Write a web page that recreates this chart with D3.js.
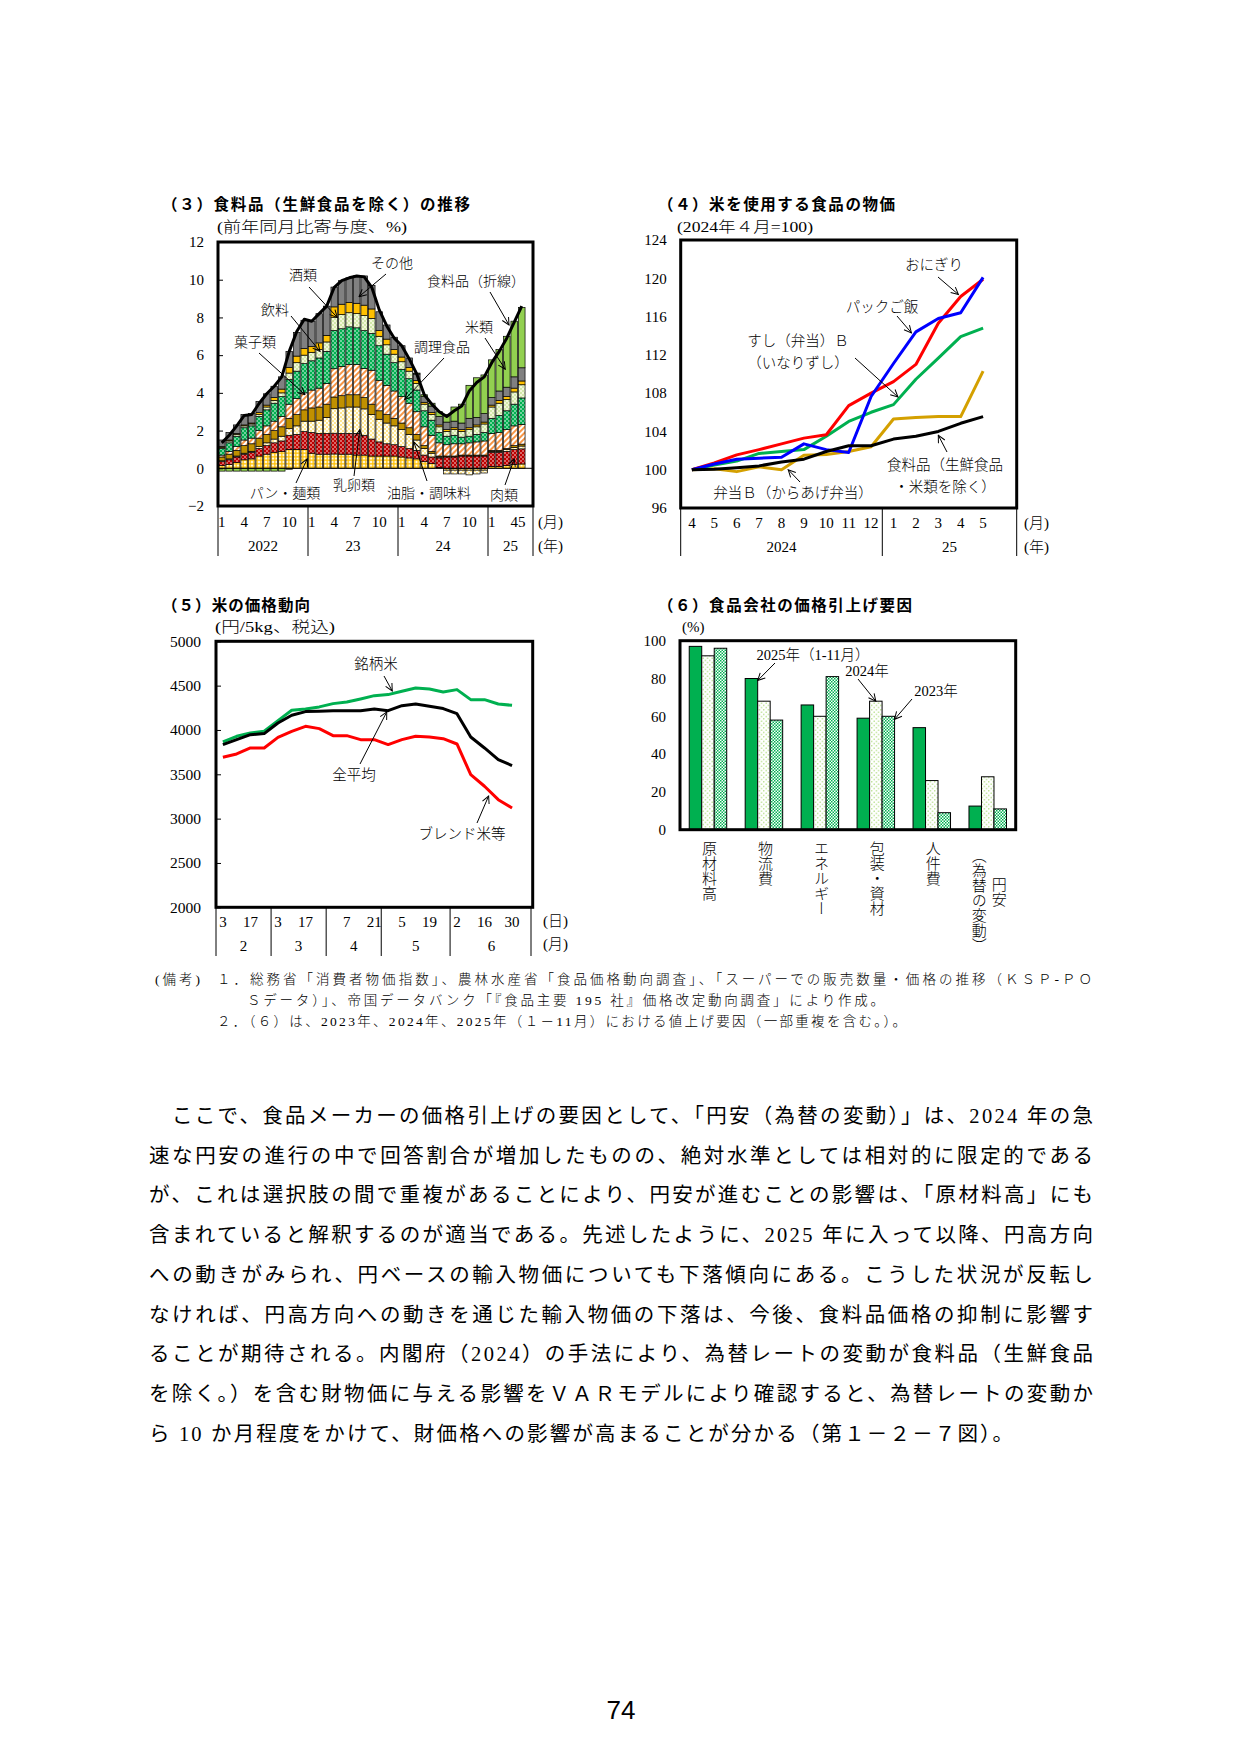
<!DOCTYPE html>
<html>
<head>
<meta charset="utf-8">
<script src="https://d3js.org/d3.v7.min.js"></script>
<style>
  body { margin:0; background:#fff; }
</style>
</head>
<body>
<script>
// ---------- (3) food contributions, 2022/1 - 2025/5 ----------
var months3 = ["2022/1","2022/2","2022/3","2022/4","2022/5","2022/6","2022/7","2022/8","2022/9","2022/10","2022/11","2022/12",
  "2023/1","2023/2","2023/3","2023/4","2023/5","2023/6","2023/7","2023/8","2023/9","2023/10","2023/11","2023/12",
  "2024/1","2024/2","2024/3","2024/4","2024/5","2024/6","2024/7","2024/8","2024/9","2024/10","2024/11","2024/12",
  "2025/1","2025/2","2025/3","2025/4","2025/5"];
var pan3 = [0.15,0.2,0.3,0.45,0.5,0.65,0.75,0.85,0.9,1.0,1.0,1.0, 0.8,0.75,0.75,0.76,0.75,0.75,0.7,0.7,0.65,0.65,0.65,0.65, 0.6,0.55,0.5,0.35,0.25,0.05,-0.1,-0.1,-0.1,-0.1,-0.1,-0.1, 0.1,0.1,0.15,0.2,0.23];
var meat3 = [0.2,0.25,0.3,0.3,0.35,0.4,0.45,0.5,0.55,0.75,0.8,0.95, 1.1,1.1,1.1,1.1,1.1,1.1,1.15,1.05,0.9,0.75,0.65,0.6, 0.55,0.5,0.45,0.35,0.35,0.5,0.6,0.6,0.65,0.65,0.65,0.65, 0.75,0.75,0.75,0.8,0.8];
var dairy3 = [0.05,0.05,0.05,0.05,0.05,0.1,0.15,0.2,0.25,0.35,0.45,0.55, 0.6,0.7,0.85,1.3,1.35,1.4,1.4,1.4,1.3,1.2,1.1,1.0, 0.9,0.75,0.55,0.35,0.2,0.05,-0.2,-0.2,-0.2,-0.25,-0.2,-0.15, 0.05,0.05,0.1,0.1,0.15];
var oil3 = [0.2,0.25,0.3,0.4,0.4,0.45,0.45,0.45,0.5,0.55,0.6,0.6, 0.7,0.7,0.7,0.62,0.65,0.65,0.65,0.6,0.55,0.45,0.45,0.4, 0.35,0.35,0.3,0.15,0.1,0.05,0.05,0.05,0.05,0.05,0.05,0.05, 0.05,0.05,0.05,0.1,0.1];
var snack3 = [0.1,0.15,0.2,0.3,0.3,0.4,0.45,0.5,0.55,0.75,0.85,0.9, 0.95,1.0,1.1,1.5,1.55,1.6,1.6,1.55,1.8,1.6,1.55,1.45, 1.4,1.3,1.2,1.0,0.85,0.7,0.6,0.65,0.6,0.65,0.7,0.75, 0.9,0.95,1.0,1.05,1.05];
var prep3 = [0.35,0.45,0.55,0.65,0.65,0.75,0.85,0.95,1.05,1.3,1.45,1.55, 1.55,1.6,1.7,2.03,2.0,2.0,1.95,2.0,1.95,1.85,1.65,1.5, 1.45,1.3,1.15,0.85,0.8,0.55,0.45,0.45,0.35,0.35,0.4,0.45, 0.8,0.9,1.0,1.15,1.4];
var bev3 = [0.05,0.1,0.1,0.1,0.1,0.1,0.15,0.15,0.2,0.35,0.45,0.45, 0.45,0.45,0.5,0.7,0.75,0.75,0.75,0.8,0.8,0.5,0.5,0.45, 0.4,0.4,0.35,0.35,0.3,0.3,0.25,0.3,0.3,0.35,0.4,0.45, 0.6,0.65,0.6,0.65,0.7];
var alc3 = [0.05,0.05,0.05,0.05,0.05,0.1,0.1,0.15,0.2,0.3,0.35,0.35, 0.3,0.35,0.35,0.55,0.55,0.55,0.55,0.55,0.5,0.3,0.3,0.25, 0.25,0.2,0.15,0.1,0.1,0.1,0.1,0.1,0.1,0.1,0.1,0.1, 0.1,0.15,0.15,0.2,0.2];
var other3 = [0.35,0.4,0.45,0.55,0.5,0.6,0.6,0.6,0.65,0.85,1.25,1.5, 1.35,1.55,1.55,1.05,1.25,1.3,1.45,1.55,1.25,1.0,0.75,0.65, 0.6,0.5,0.35,0.3,0.35,0.45,0.4,0.35,0.35,0.5,0.4,0.45, 0.4,0.5,0.5,0.6,0.7];
var rice3 = [-0.15,-0.15,-0.15,-0.15,-0.15,-0.15,-0.15,-0.15,-0.15,-0.05,0,0, 0,0,0,0,0,0,0,0,0,0,0,0, 0,0,0.05,0.1,0.15,0.25,0.4,0.75,1.0,1.75,2.1,2.05, 2.0,2.2,2.7,2.95,3.2];
var food3 = [1.35,1.75,2.25,2.8,2.85,3.45,3.95,4.35,4.85,6.2,7.25,7.9, 7.8,8.2,8.6,9.6,9.95,10.1,10.2,10.15,9.6,8.4,7.55,6.9, 6.5,5.8,5.0,3.9,3.4,3.0,2.75,3.05,3.3,4.1,4.55,4.85, 5.6,6.2,6.9,7.75,8.6];
var tickIdx3 = [0,3,6,9,12,15,18,21,24,27,30,33,36,39,40];
var years3 = [["2022",0,12],["23",12,24],["24",24,36],["25",36,42]];

// ---------- (4) rice food prices, 2024/4 = 100 ----------
var months4 = ["2024/4","2024/5","2024/6","2024/7","2024/8","2024/9","2024/10","2024/11","2024/12","2025/1","2025/2","2025/3","2025/4","2025/5"];
var onigiri4 = [100,100.7,101.55,102.1,102.7,103.3,103.65,106.7,108.0,109.2,111.0,115.3,118.1,119.9];
var packRice4 = [100,100.6,101.1,101.2,101.3,102.7,102.1,101.8,107.65,111.1,114.4,115.8,116.4,120.1];
var sushi4 = [100,100.5,100.9,101.7,101.9,102.1,103.5,105.05,106.0,106.8,109.45,111.65,113.9,114.8];
var bento4 = [100,100.1,99.8,100.3,100.0,101.5,101.6,101.9,102.4,105.3,105.45,105.55,105.55,110.3];
var food4 = [100,100.05,100.2,100.4,100.8,101.1,101.9,102.5,102.5,103.2,103.5,104.0,104.85,105.55];
var years4 = [["2024",0,9],["25",9,15]];

// ---------- (5) rice price, yen / 5kg ----------
var dates5 = ["2/3","2/10","2/17","2/24","3/3","3/10","3/17","3/24","3/31","4/7","4/14","4/21","4/28","5/5","5/12","5/19","5/26","6/2","6/9","6/16","6/23","6/30"];
var brand5 = [3865,3929,3966,3985,4105,4222,4237,4260,4297,4316,4350,4387,4399,4436,4474,4462,4429,4455,4342,4342,4293,4278];
var avg5 = [3835,3891,3947,3959,4079,4166,4207,4211,4218,4218,4218,4237,4218,4274,4293,4267,4241,4184,3921,3797,3666,3598];
var blend5 = [3692,3729,3797,3797,3917,3985,4041,4015,3936,3936,3891,3891,3835,3891,3929,3921,3902,3842,3496,3365,3214,3120];
var dayTicks5 = [0,2,4,6,9,11,13,15,17,19,21];
var groups5 = [["2",0,4],["3",4,8],["4",8,12],["5",12,17],["6",17,23]];

// ---------- (6) reasons for price increases, % ----------
var factors6 = ["原材料高","物流費","エネルギー","包装・資材","人件費","円安\n（為替の変動）"];
var years6 = ["2025","2024","2023"];
var y2025 = [97,80,66,59,54,12.5];
var y2024 = [92,68,60,68,26,28];
var y2023 = [96,58,81,60,9,11];

var SERIF = "'Liberation Serif','Noto Sans CJK JP',serif";
var GOTHIC = "'Noto Sans CJK JP',sans-serif";

var svg = d3.select("body").append("svg").attr("width",1241).attr("height",1755);
svg.append("rect").attr("width",1241).attr("height",1755).attr("fill","#fff");
var defs = svg.append("defs");

defs.append("marker").attr("id","arr").attr("viewBox","0 0 10 10").attr("refX",9).attr("refY",5)
  .attr("markerWidth",9).attr("markerHeight",9).attr("markerUnits","userSpaceOnUse").attr("orient","auto")
  .append("path").attr("d","M1,1 L9,5 L1,9").attr("fill","none").attr("stroke","#000").attr("stroke-width",1.1);

// fill patterns
function pat(id, w, h, bg) {
  var p = defs.append("pattern").attr("id",id).attr("width",w).attr("height",h).attr("patternUnits","userSpaceOnUse");
  p.append("rect").attr("width",w).attr("height",h).attr("fill",bg);
  return p;
}
function dots(p, pts, r, col) {
  pts.forEach(function(d){ p.append("circle").attr("cx",d[0]).attr("cy",d[1]).attr("r",r).attr("fill",col); });
}
var pPan = pat("pPan",3.5,3.5,"#fffbea");
pPan.append("path").attr("d","M0,1.75H3.5M1.75,0V3.5").attr("stroke","#ffc000").attr("stroke-width",1.3);
dots(pat("pMeat",4,4,"#c00000"), [[1,1],[3,3]], 0.75, "#fff");
dots(pat("pDairy",4,4,"#fffff4"), [[1,1],[3,3]], 0.75, "#ffc000");
var pSnack = pat("pSnack",4,4,"#fff").attr("patternTransform","rotate(45)");
pSnack.append("rect").attr("width",2).attr("height",4).attr("fill","#f79646");
dots(pat("pPrep",4,4,"#00b050"), [[1,1],[3,3]], 0.8, "#fff");
dots(pat("pBev",4,4,"#f3f6da"), [[1,1],[3,3]], 0.65, "#92d050");
dots(pat("p24",4.5,4.5,"#fff"), [[1.1,1.1],[3.35,3.35]], 0.65, "#92d050");
var p23 = pat("p23",3,3,"#fff");
p23.append("rect").attr("width",1.5).attr("height",1.5).attr("fill","#00b050");
p23.append("rect").attr("x",1.5).attr("y",1.5).attr("width",1.5).attr("height",1.5).attr("fill","#00b050");

function txt(g, x, y, s, size, anchor, family, weight) {
  return g.append("text").attr("x",x).attr("y",y).attr("font-size",size)
    .attr("text-anchor",anchor || "start").attr("font-family",family || SERIF)
    .attr("font-weight",weight || "normal").attr("fill","#000").text(s);
}
function arrow(g, x1, y1, x2, y2) {
  g.append("line").attr("x1",x1).attr("y1",y1).attr("x2",x2).attr("y2",y2)
    .attr("stroke","#000").attr("stroke-width",1).attr("marker-end","url(#arr)");
}
function frame(g, x0, y0, x1, y1) {
  g.append("rect").attr("x",x0).attr("y",y0).attr("width",x1-x0).attr("height",y1-y0)
    .attr("fill","none").attr("stroke","#000").attr("stroke-width",3);
}
function styleAxis(a, size) {
  a.attr("font-size",size).attr("font-family",SERIF);
  a.select(".domain").remove();
  a.selectAll("text").attr("fill","#000");
}

// ===================== (3) =====================
var g3 = svg.append("g");
txt(g3,162,210,"（３）食料品（生鮮食品を除く）の推移",15.5,"start",GOTHIC,"bold").attr("textLength",308).attr("lengthAdjust","spacing");
txt(g3,217,232,"(前年同月比寄与度、%)",15,"start",SERIF,300).attr("textLength",190).attr("lengthAdjust","spacingAndGlyphs");

var keys3 = ["pan","meat","dairy","oil","snack","prep","bev","alc","other","rice"];
var fill3 = {pan:"url(#pPan)",meat:"url(#pMeat)",dairy:"url(#pDairy)",oil:"#c09000",snack:"url(#pSnack)",
  prep:"url(#pPrep)",bev:"url(#pBev)",alc:"#ffc000",other:"#808080",rice:"#92d050"};
var rows3 = months3.map(function(m,i){
  return {m:i,pan:pan3[i],meat:meat3[i],dairy:dairy3[i],oil:oil3[i],snack:snack3[i],prep:prep3[i],
    bev:bev3[i],alc:alc3[i],other:other3[i],rice:rice3[i]};
});
var x3 = d3.scaleBand().domain(d3.range(months3.length+1)).range([218,533]).paddingInner(0.12).paddingOuter(0.06);
var xb3 = d3.scaleLinear().domain([0,months3.length+1]).range([218,533]);
var y3 = d3.scaleLinear().domain([-2,12]).range([506,242]);
var series3 = d3.stack().keys(keys3).offset(d3.stackOffsetDiverging)(rows3);

g3.selectAll("g.layer").data(series3).enter().append("g").attr("class","layer")
  .attr("fill",function(d){return fill3[d.key];})
  .selectAll("rect").data(function(d){return d.filter(function(e){return e[1]!==e[0];});}).enter().append("rect")
  .attr("x",function(d){return x3(d.data.m);})
  .attr("width",x3.bandwidth())
  .attr("y",function(d){return y3(Math.max(d[0],d[1]));})
  .attr("height",function(d){return Math.abs(y3(d[0])-y3(d[1]));})
  .attr("stroke","#000").attr("stroke-width",0.7);

g3.append("line").attr("x1",218).attr("x2",533).attr("y1",y3(0)).attr("y2",y3(0)).attr("stroke","#000").attr("stroke-width",1);
g3.append("path").datum(food3)
  .attr("d",d3.line().x(function(d,i){return xb3(i+0.5);}).y(function(d){return y3(d);}))
  .attr("fill","none").attr("stroke","#000").attr("stroke-width",3).attr("stroke-linejoin","round");
frame(g3,218,242,533,506);
var ax3 = g3.append("g").attr("transform","translate(218,0)")
  .call(d3.axisLeft(y3).tickValues(d3.range(-2,13,2)).tickFormat(d3.format("d")).tickSizeInner(-5).tickSizeOuter(0).tickPadding(14));
styleAxis(ax3,15);

tickIdx3.forEach(function(i){
  txt(g3,xb3(i+0.5),527,months3[i].split("/")[1],15,"middle");
});
years3.forEach(function(y){
  g3.append("line").attr("x1",xb3(y[1])).attr("x2",xb3(y[1])).attr("y1",506).attr("y2",556).attr("stroke","#000").attr("stroke-width",1);
  txt(g3,(xb3(y[1])+xb3(y[2]))/2,551,y[0],15,"middle");
});
g3.append("line").attr("x1",533).attr("x2",533).attr("y1",506).attr("y2",556).attr("stroke","#000").attr("stroke-width",1);
txt(g3,538,527,"(月)",15,"start",SERIF,300);
txt(g3,538,551,"(年)",15,"start",SERIF,300);

var notes3 = [
  ["その他",392,268,386,274,18.3,9.1],
  ["酒類",303,280,309,287,15.4,8.0],
  ["食料品（折線）",476,286,490,292,38.3,7.6],
  ["飲料",275,315,291,316,13.1,6.2],
  ["米類",479,332,485,338,37.8,5.25],
  ["菓子類",255,347,259,353,11.1,3.9],
  ["調理食品",442,352,444,358,24.4,3.65],
  ["パン・麺類",285,498,296,483,11.4,0.5],
  ["乳卵類",354,490,354,476,18.4,2.05],
  ["油脂・調味料",429,498,427,481,25.6,1.4],
  ["肉類",504,500,505,485,39,0.5]
];
notes3.forEach(function(n){
  txt(g3,n[1],n[2],n[0],14,"middle").attr("font-weight",300);
  arrow(g3,n[3],n[4],xb3(n[5]+0.5),y3(n[6]));
});

// ===================== (4) =====================
var g4 = svg.append("g");
txt(g4,658,210,"（４）米を使用する食品の物価",15.5,"start",GOTHIC,"bold").attr("textLength",237).attr("lengthAdjust","spacing");
txt(g4,677,232,"(2024年４月=100)",15,"start",SERIF,300).attr("textLength",136).attr("lengthAdjust","spacingAndGlyphs");
var x4 = d3.scaleBand().domain(d3.range(months4.length+1)).range([680.7,1016.7]);
var xc4 = function(i){ return x4(0) + x4.step()*(i+0.5); };
var y4 = d3.scaleLinear().domain([96,124]).range([508,240]);
var line4 = d3.line().x(function(d,i){return xc4(i);}).y(function(d){return y4(d);});
[[bento4,"#d4a000"],[sushi4,"#00b050"],[onigiri4,"#ff0000"],[packRice4,"#0000ff"],[food4,"#000"]].forEach(function(s){
  g4.append("path").datum(s[0]).attr("d",line4).attr("fill","none").attr("stroke",s[1])
    .attr("stroke-width",3).attr("stroke-linejoin","round");
});
frame(g4,680.7,240,1016.7,508);
var ax4 = g4.append("g").attr("transform","translate(680.7,0)")
  .call(d3.axisLeft(y4).tickValues(d3.range(96,125,4)).tickFormat(d3.format("d")).tickSize(0).tickPadding(14));
styleAxis(ax4,15);
months4.forEach(function(m,i){ txt(g4,xc4(i),528,m.split("/")[1],15,"middle"); });
years4.forEach(function(y){
  var a = x4(0)+x4.step()*y[1], b = x4(0)+x4.step()*y[2];
  g4.append("line").attr("x1",a).attr("x2",a).attr("y1",508).attr("y2",556).attr("stroke","#000");
  txt(g4,(a+b)/2,552,y[0],15,"middle");
});
g4.append("line").attr("x1",1016.7).attr("x2",1016.7).attr("y1",508).attr("y2",556).attr("stroke","#000");
txt(g4,1024,528,"(月)",15,"start",SERIF,300);
txt(g4,1024,552,"(年)",15,"start",SERIF,300);

var notes4 = [
  [["おにぎり"],934,270,938,277,11.9,118.3],
  [["パックご飯"],882,312,897,316,9.8,114.3],
  [["すし（弁当）Ｂ","（いなりずし）"],798,346,855,358,9.2,107.6],
  [["食料品（生鮮食品","・米類を除く）"],945,470,947,452,11.0,103.6],
  [["弁当Ｂ（からあげ弁当）"],793,498,800,482,4.3,100.0]
];
notes4.forEach(function(n){
  n[0].forEach(function(s,k){ txt(g4,n[1],n[2]+k*22,s,14.5,"middle").attr("font-weight",300); });
  arrow(g4,n[3],n[4],xc4(n[5]),y4(n[6]));
});

// ===================== (5) =====================
var g5 = svg.append("g");
txt(g5,162,611,"（５）米の価格動向",15.5,"start",GOTHIC,"bold").attr("textLength",148).attr("lengthAdjust","spacing");
txt(g5,215,632,"(円/5kg、税込)",15,"start",SERIF,300).attr("textLength",120).attr("lengthAdjust","spacingAndGlyphs");
var x5 = d3.scaleBand().domain(d3.range(dates5.length+1)).range([216,532.7]);
var xc5 = function(k){ return x5(0) + x5.step()*(k+0.5); };
var y5 = d3.scaleLinear().domain([2000,5000]).range([907.3,641.3]);
var line5 = d3.line().x(function(d,i){return xc5(i);}).y(function(d){return y5(d);});
[[brand5,"#00b050"],[blend5,"#ff0000"],[avg5,"#000"]].forEach(function(s){
  g5.append("path").datum(s[0]).attr("d",line5).attr("fill","none").attr("stroke",s[1])
    .attr("stroke-width",3).attr("stroke-linejoin","round");
});
frame(g5,216,641.3,532.7,907.3);
var ax5 = g5.append("g").attr("transform","translate(216,0)")
  .call(d3.axisLeft(y5).tickValues(d3.range(2000,5001,500)).tickFormat(d3.format("d")).tickSizeInner(-5).tickSizeOuter(0).tickPadding(15));
styleAxis(ax5,15.5);
dayTicks5.forEach(function(k){ txt(g5,xc5(k),927,dates5[k].split("/")[1],15,"middle"); });
groups5.forEach(function(gr){
  var a = x5(0)+x5.step()*gr[1], b = x5(0)+x5.step()*gr[2];
  g5.append("line").attr("x1",a).attr("x2",a).attr("y1",907).attr("y2",956).attr("stroke","#000");
  txt(g5,(a+b)/2,951,gr[0],15,"middle");
});
g5.append("line").attr("x1",531).attr("x2",531).attr("y1",907).attr("y2",956).attr("stroke","#000");
txt(g5,543,926,"(日)",15,"start",SERIF,300);
txt(g5,543,949,"(月)",15,"start",SERIF,300);

var notes5 = [
  ["銘柄米",376,669,384,676,12.3,4440],
  ["全平均",354,780,360,764,11.9,4203],
  ["ブレンド米等",462,839,477,823,19.3,3255]
];
notes5.forEach(function(n){
  txt(g5,n[1],n[2],n[0],14.5,"middle").attr("font-weight",300);
  arrow(g5,n[3],n[4],xc5(n[5]),y5(n[6]));
});

// ===================== (6) =====================
var g6 = svg.append("g");
txt(g6,658,611,"（６）食品会社の価格引上げ要因",15.5,"start",GOTHIC,"bold").attr("textLength",254).attr("lengthAdjust","spacing");
txt(g6,682,632,"(%)",15,"start",SERIF,300);
var x6 = d3.scaleBand().domain(factors6).range([680,1015.7]).paddingInner(0.33).paddingOuter(0.165);
var xs6 = d3.scaleBand().domain(years6).range([0,x6.bandwidth()]);
var y6 = d3.scaleLinear().domain([0,100]).range([829.7,640.7]);
var vals6 = {"2025":y2025,"2024":y2024,"2023":y2023};
var fill6 = {"2025":"#00b050","2024":"url(#p24)","2023":"url(#p23)"};
years6.forEach(function(yr){
  g6.selectAll("rect.b"+yr).data(factors6).enter().append("rect")
    .attr("x",function(f){return x6(f)+xs6(yr);})
    .attr("width",xs6.bandwidth())
    .attr("y",function(f,i){return y6(vals6[yr][i]);})
    .attr("height",function(f,i){return y6(0)-y6(vals6[yr][i]);})
    .attr("fill",fill6[yr]).attr("stroke","#000").attr("stroke-width",1);
});
frame(g6,680,640.7,1015.7,829.7);
var ax6 = g6.append("g").attr("transform","translate(680,0)")
  .call(d3.axisLeft(y6).tickValues(d3.range(0,101,20)).tickFormat(d3.format("d")).tickSize(0).tickPadding(14));
styleAxis(ax6,15);
factors6.forEach(function(f){
  var cols = f.split("\n");
  var cx = x6(f)+x6.bandwidth()/2;
  if (cols.length === 1) {
    txt(g6,cx,841,f,15).attr("font-weight",300).style("writing-mode","vertical-rl");
  } else {
    txt(g6,cx+10,877,cols[0],15).attr("font-weight",300).style("writing-mode","vertical-rl");
    txt(g6,cx-10,848,cols[1],15).attr("font-weight",300).style("writing-mode","vertical-rl");
  }
});
var notes6 = [
  ["2025年（1-11月）",813,660,775,663,"2025",1,1,2],
  ["2024年",867,676,858,679,"2024",3,0.5,0],
  ["2023年",936,696,912,699,"2023",3,1,3]
];
notes6.forEach(function(n){
  txt(g6,n[1],n[2],n[0],14.5,"middle").attr("font-weight",300);
  var f = factors6[n[6]];
  arrow(g6,n[3],n[4],x6(f)+xs6(n[5])+xs6.bandwidth()*n[7],y6(vals6[n[5]][n[6]])+n[8]);
});

// ===================== notes & body =====================
var gn = svg.append("g");
txt(gn,155,984,"(備考)",13.5,"start",SERIF,300).attr("textLength",45).attr("lengthAdjust","spacing");
txt(gn,217,984,"１．総務省「消費者物価指数」、農林水産省「食品価格動向調査」、「スーパーでの販売数量・価格の推移（ＫＳＰ-ＰＯ",13.5,"start",SERIF,300)
  .attr("textLength",875).attr("lengthAdjust","spacing");
txt(gn,247,1005,"Ｓデータ）」、帝国データバンク「『食品主要 195 社』価格改定動向調査」により作成。",13.5,"start",SERIF,300)
  .attr("textLength",637).attr("lengthAdjust","spacing");
txt(gn,217,1026,"２．（６）は、2023年、2024年、2025年（１－11月）における値上げ要因（一部重複を含む。）。",13.5,"start",SERIF,300)
  .attr("textLength",689).attr("lengthAdjust","spacing");

var body = [
  ["ここで、食品メーカーの価格引上げの要因として、「円安（為替の変動）」は、2024 年の急",172,921],
  ["速な円安の進行の中で回答割合が増加したものの、絶対水準としては相対的に限定的である",149,944],
  ["が、これは選択肢の間で重複があることにより、円安が進むことの影響は、「原材料高」にも",149,944],
  ["含まれていると解釈するのが適当である。先述したように、2025 年に入って以降、円高方向",149,944],
  ["への動きがみられ、円ベースの輸入物価についても下落傾向にある。こうした状況が反転し",149,944],
  ["なければ、円高方向への動きを通じた輸入物価の下落は、今後、食料品価格の抑制に影響す",149,944],
  ["ることが期待される。内閣府（2024）の手法により、為替レートの変動が食料品（生鮮食品",149,944],
  ["を除く。）を含む財物価に与える影響をＶＡＲモデルにより確認すると、為替レートの変動か",149,944],
  ["ら 10 か月程度をかけて、財価格への影響が高まることが分かる（第１－２－７図）。",149,864]
];
body.forEach(function(b,k){
  txt(gn,b[1],1123+k*39.7,b[0],20.5,"start",SERIF,"normal").attr("textLength",b[2]).attr("lengthAdjust","spacing");
});
txt(gn,621,1719,"74",26,"middle","'Liberation Sans',Arial,sans-serif");
</script>
</body>
</html>
